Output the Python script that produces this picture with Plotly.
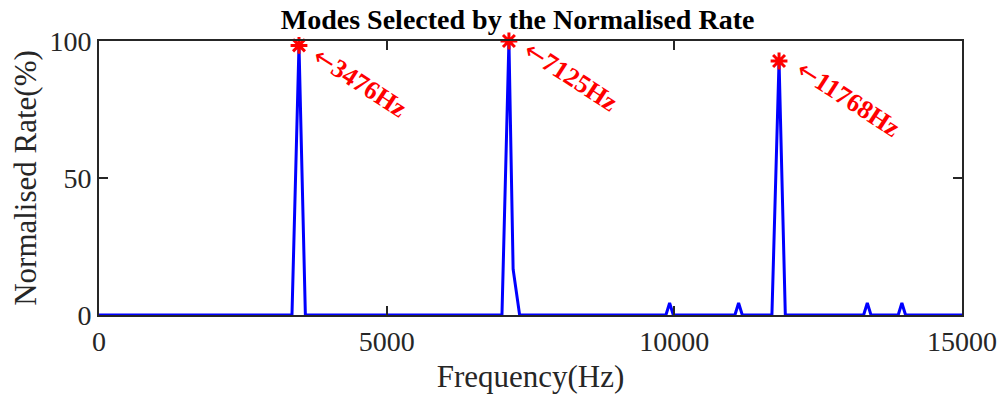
import plotly.graph_objects as go

# Data
freq = [0, 3354, 3476, 3587, 7004, 7125, 7198, 7311, 9854, 9918, 9982,
        11053, 11117, 11181, 11696, 11820, 11929, 13290, 13354, 13418,
        13891, 13955, 14019, 15000]
rate = [0, 0, 98.4, 0, 0, 100, 16.7, 0, 0, 4.4, 0,
        0, 4.4, 0, 0, 92.7, 0, 0, 4.4, 0,
        0, 4.4, 0, 0]

peak_freq = [3476, 7125, 11820]
peak_rate = [98.4, 100, 92.7]
peak_labels = ["3476Hz", "7125Hz", "11768Hz"]
label_shift_x = [61, 62, 69]
label_shift_y = [-37, -35, -37]

x_ticks = [0, 5000, 10000, 15000]
x_ticktext = ["0", "5000", "10000", "15000"]
y_ticks = [0, 50, 100]

FONT = "Liberation Serif"
AX = "#262626"

fig = go.Figure()
fig.add_trace(go.Scatter(x=freq, y=rate, mode="lines",
                         line=dict(color="#0000ff", width=3),
                         cliponaxis=False, showlegend=False))
fig.add_trace(go.Scatter(x=peak_freq, y=peak_rate, mode="markers",
                         marker=dict(symbol="asterisk-open", size=14,
                                     color="#ff0000",
                                     line=dict(color="#ff0000", width=3)),
                         cliponaxis=False, showlegend=False))

ARROW = ("<span style=\"font-family:'DejaVu Sans';font-weight:normal\">"
         "\u2190</span>")
for xf, yr, lab, sx, sy in zip(peak_freq, peak_rate, peak_labels,
                               label_shift_x, label_shift_y):
    fig.add_annotation(x=xf, y=yr, text=f"{ARROW}<b>{lab}</b>", showarrow=False,
                       textangle=33, xanchor="center", yanchor="middle",
                       xshift=sx, yshift=sy,
                       font=dict(family=FONT, size=26, color="#ff0000"))

fig.update_layout(
    width=1007, height=394,
    margin=dict(l=99, r=45, t=41, b=79),
    paper_bgcolor="white", plot_bgcolor="white",
    title=dict(text="<b>Modes Selected by the Normalised Rate</b>",
               x=0.514, xanchor="center", y=1 - 19 / 394, yanchor="middle",
               font=dict(family=FONT, size=28, color="black")),
    font=dict(family=FONT, color=AX),
)
fig.update_xaxes(range=[0, 15000], tickvals=x_ticks, ticktext=x_ticktext,
                 ticks="inside", automargin=False,
                 ticklen=9, tickwidth=2, tickcolor=AX,
                 showline=True, linecolor=AX, linewidth=2, mirror="ticks",
                 showgrid=False, zeroline=False,
                 tickfont=dict(family=FONT, size=28, color=AX),
                 title=dict(text="Frequency(Hz)", standoff=12,
                            font=dict(family=FONT, size=31, color=AX)))
fig.update_yaxes(range=[0, 100], tickvals=y_ticks, ticks="inside",
                 automargin=False,
                 ticklen=9, tickwidth=2, tickcolor=AX,
                 showline=True, linecolor=AX, linewidth=2, mirror="ticks",
                 showgrid=False, zeroline=False,
                 tickfont=dict(family=FONT, size=28, color=AX),
                 title=dict(text="Normalised Rate(%)", standoff=4,
                            font=dict(family=FONT, size=31, color=AX)))

fig.write_html("out.html")
